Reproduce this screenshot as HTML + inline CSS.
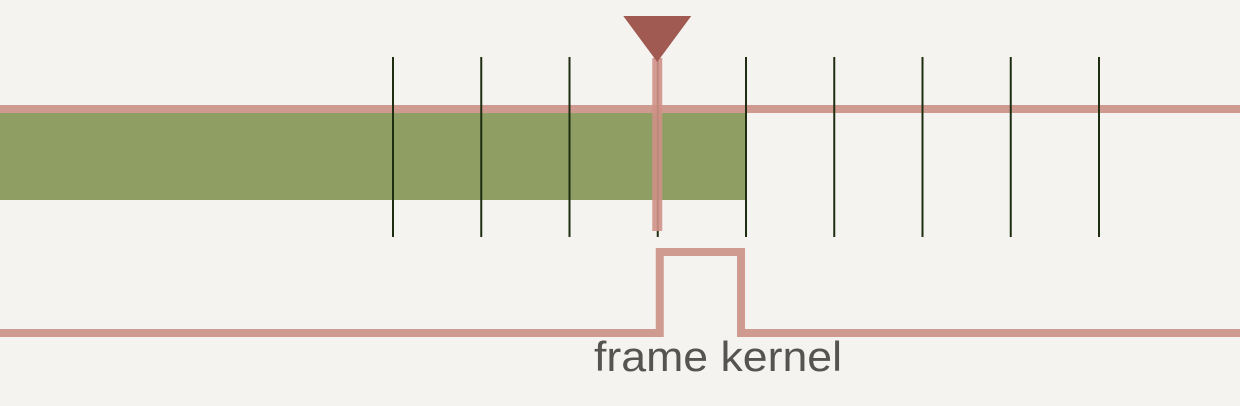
<!DOCTYPE html>
<html><head><meta charset="utf-8"><style>
html,body{margin:0;padding:0;background:#f4f3ef;}
svg{display:block}
</style></head><body>
<svg width="1240" height="406" viewBox="0 0 1240 406">
<rect x="0" y="0" width="1240" height="406" fill="#f4f3ef"/>
<g id="marks"></g>
<text x="594" y="371" textLength="248" lengthAdjust="spacingAndGlyphs" font-family="'Liberation Sans',sans-serif" font-size="42" fill="#555452">frame kernel</text>
</svg>
<script>
const frameTicks = [0,1,2,3,4,5,6,7,8];
const filledUntil = 4;
const playhead = 3;
const kernelStart = 3;
const kernelEnd = 4;
const x0 = 393, step = 88.25;
function xs(v){return x0 + v*step;}
const g = document.getElementById('marks');
const NS='http://www.w3.org/2000/svg';
function mk(tag, attrs){const e=document.createElementNS(NS,tag);for(const k in attrs)e.setAttribute(k,attrs[k]);g.appendChild(e);return e;}
let r = mk('rect',{x:0,y:113,width:xs(filledUntil),height:87,fill:'#8f9e63'});


let h = mk('line',{x1:0,y1:109,x2:1240,y2:109,stroke:'#cf9b91','stroke-width':8});


frameTicks.forEach(t=>{
  const l = mk('line',{x1:xs(t),y1:57,x2:xs(t),y2:237,stroke:'#1e2c10','stroke-width':2});
  
  
});
const px = xs(playhead)-0.5;
let pl = mk('line',{x1:px,y1:58,x2:px,y2:231,stroke:'#cf9187','stroke-width':10,'stroke-opacity':0.9});


let tri = mk('polygon',{points:`${px-34},16 ${px+34},16 ${px},62`,fill:'#a05a52'});


const ka = xs(kernelStart)+2, kb = xs(kernelEnd)-5;
let k = mk('polyline',{points:`0,333 ${ka},333 ${ka},252 ${kb},252 ${kb},333 1240,333`,fill:'none',stroke:'#cf9b91','stroke-width':8});


</script>
</body></html>
